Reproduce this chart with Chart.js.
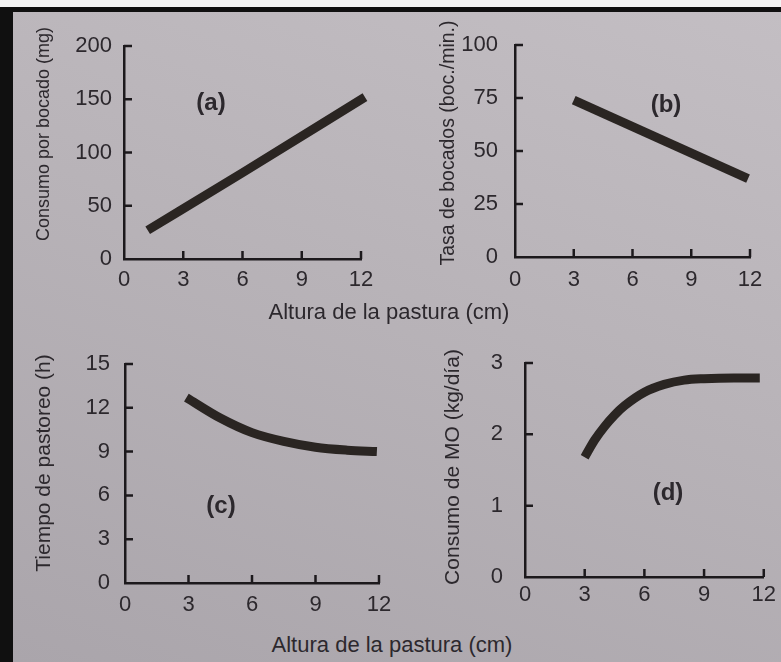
<!DOCTYPE html>
<html>
<head>
<meta charset="utf-8">
<script src="https://cdn.jsdelivr.net/npm/chart.js@4.4.1/dist/chart.umd.min.js"></script>
<style>
  html, body { margin: 0; padding: 0; }
  body {
    width: 781px; height: 662px; position: relative; overflow: hidden;
    background: #f4f4f4;
    font-family: "Liberation Sans", Arial, sans-serif;
  }
  #frame { position: absolute; left: 0; top: 7px; width: 781px; height: 655px; background: #101010; }
  #page {
    position: absolute; left: 13px; top: 12px; width: 768px; height: 650px;
    background: linear-gradient(200deg, #c3bec3 0%, #b8b3b8 45%, #aaa5ab 100%);
  }
  .panel { position: absolute; }
  .txt { position: absolute; color: #2c282d; white-space: nowrap; line-height: 1; }
  .ytitle { transform: translate(-50%, -50%) rotate(-90deg); }
  .xtitle { transform: translate(-50%, -50%); font-size: 22px; }
  .tag { transform: translate(-50%, -50%); font-size: 24px; font-weight: bold; }
</style>
</head>
<body>
<div id="frame"></div>
<div id="page"></div>

<div class="panel" style="left:13px;top:12px;width:377px;height:290px"><canvas id="chartA"></canvas></div>
<div class="panel" style="left:390px;top:12px;width:391px;height:290px"><canvas id="chartB"></canvas></div>
<div class="panel" style="left:13px;top:320px;width:400px;height:300px"><canvas id="chartC"></canvas></div>
<div class="panel" style="left:390px;top:320px;width:391px;height:300px"><canvas id="chartD"></canvas></div>

<div class="txt ytitle" style="left:43px;top:134px;font-size:18px">Consumo por bocado (mg)</div>
<div class="txt ytitle" style="left:448px;top:143px;font-size:19.5px">Tasa de bocados (boc./min.)</div>
<div class="txt ytitle" style="left:42px;top:463px;font-size:21px">Tiempo de pastoreo (h)</div>
<div class="txt ytitle" style="left:451px;top:467px;font-size:21px">Consumo de MO (kg/día)</div>

<div class="txt xtitle" style="left:389px;top:312px">Altura de la pastura (cm)</div>
<div class="txt xtitle" style="left:392px;top:645px">Altura de la pastura (cm)</div>

<div class="txt tag" style="left:211px;top:102px">(a)</div>
<div class="txt tag" style="left:666px;top:104px">(b)</div>
<div class="txt tag" style="left:221px;top:505px">(c)</div>
<div class="txt tag" style="left:668px;top:492px">(d)</div>

<script>
// altura de la pastura (cm) y respuesta de cada panel
const alturaA = [1.2, 6, 12.2];
const consumoBocado = [27, 81, 152];

const alturaB = [3, 11.9];
const tasaBocados = [74, 37];

const alturaC = [2.9, 4.5, 6, 7.5, 9, 10.5, 11.9];
const tiempoPastoreo = [12.7, 11.3, 10.3, 9.7, 9.3, 9.1, 9.0];

const alturaD = [3, 3.5, 4, 4.5, 5, 6, 7, 8, 9, 10.5, 11.8];
const consumoMO = [1.68, 1.92, 2.11, 2.27, 2.4, 2.59, 2.7, 2.76, 2.78, 2.79, 2.79];

// marcas de los ejes
const ticksX = [0, 3, 6, 9, 12];
const ticksA = [0, 50, 100, 150, 200];
const ticksB = [0, 25, 50, 75, 100];
const ticksC = [0, 3, 6, 9, 12, 15];
const ticksD = [0, 1, 2, 3];

const INK = '#2c282d';
const AXIS = '#1c191c';
const LINE = '#2a2522';

// marcas hacia adentro (el eje x hacia arriba, el eje y hacia la derecha)
const innerTicks = {
  id: 'innerTicks',
  afterDraw(chart) {
    const { ctx, chartArea, scales: { x, y } } = chart;
    ctx.save();
    ctx.strokeStyle = AXIS;
    ctx.lineWidth = 2.5;
    ctx.beginPath();
    x.ticks.forEach(t => {
      if (t.value === 0) return;
      const px = x.getPixelForValue(t.value);
      ctx.moveTo(px, chartArea.bottom);
      ctx.lineTo(px, chartArea.bottom - 8);
    });
    y.ticks.forEach(t => {
      if (t.value === 0) return;
      const py = y.getPixelForValue(t.value);
      ctx.moveTo(chartArea.left, py);
      ctx.lineTo(chartArea.left + 8, py);
    });
    ctx.stroke();
    ctx.restore();
  }
};

function makePanel(id, xs, ys, yTicks, lay) {
  const fixed = vals => s => { s.ticks = vals.map(v => ({ value: v })); };
  const tickFont = { family: '"Liberation Sans", Arial', size: 22 };
  return new Chart(document.getElementById(id), {
    type: 'line',
    data: {
      datasets: [{
        data: xs.map((x, i) => ({ x, y: ys[i] })),
        borderColor: LINE,
        borderWidth: 9,
        borderCapStyle: 'butt',
        pointRadius: 0,
        cubicInterpolationMode: 'monotone',
        clip: false
      }]
    },
    options: {
      responsive: true,
      maintainAspectRatio: false,
      animation: false,
      events: [],
      layout: { padding: { left: 0, top: lay.top, right: lay.right, bottom: 0 } },
      plugins: { legend: { display: false }, tooltip: { enabled: false } },
      scales: {
        x: {
          type: 'linear', min: 0, max: 12,
          afterBuildTicks: fixed(ticksX),
          afterFit: s => { s.height = lay.xH; },
          grid: { drawOnChartArea: false, drawTicks: false },
          border: { color: AXIS, width: 2.5 },
          ticks: { color: INK, padding: lay.xPad, font: tickFont }
        },
        y: {
          min: yTicks[0], max: yTicks[yTicks.length - 1],
          afterBuildTicks: fixed(yTicks),
          afterFit: s => { s.width = lay.yW; },
          grid: { drawOnChartArea: false, drawTicks: false },
          border: { color: AXIS, width: 2.5 },
          ticks: { color: INK, padding: lay.yPad, font: tickFont }
        }
      }
    },
    plugins: [innerTicks]
  });
}

makePanel('chartA', alturaA, consumoBocado, ticksA, { yW: 111, top: 34, right: 29, xH: 43, xPad: 8, yPad: 12 });
makePanel('chartB', alturaB, tasaBocados, ticksB, { yW: 125, top: 33, right: 31, xH: 45, xPad: 10, yPad: 17 });
makePanel('chartC', alturaC, tiempoPastoreo, ticksC, { yW: 112, top: 44, right: 34, xH: 37, xPad: 9, yPad: 15 });
makePanel('chartD', alturaD, consumoMO, ticksD, { yW: 135, top: 43, right: 14, xH: 43, xPad: 5, yPad: 22 });
</script>
</body>
</html>
